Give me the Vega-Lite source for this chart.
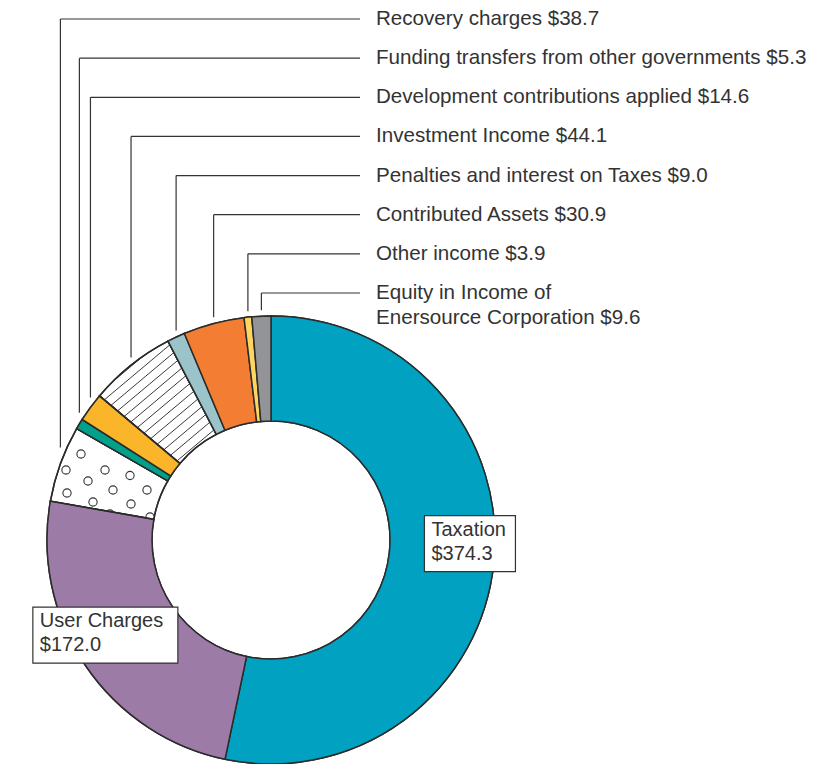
{
  "$schema": "https://vega.github.io/schema/vega-lite/v6.json",
  "width": 542,
  "height": 448,
  "autosize": {"type": "none"},
  "padding": {"left": 0, "top": 316, "right": 282, "bottom": 0},
  "background": "white",
  "config": {"view": {"stroke": null}},
  "datasets": {
    "income": [
      {"item": "Taxation", "value": 374.3, "order": 1, "lines": ["Taxation", "$374.3"]},
      {"item": "User Charges", "value": 172.0, "order": 2, "lines": ["User Charges", "$172.0"]},
      {"item": "Recovery charges", "value": 38.7, "order": 3, "lines": ["Recovery charges $38.7"]},
      {"item": "Funding transfers from other governments", "value": 5.3, "order": 4, "lines": ["Funding transfers from other governments $5.3"]},
      {"item": "Development contributions applied", "value": 14.6, "order": 5, "lines": ["Development contributions applied $14.6"]},
      {"item": "Investment Income", "value": 44.1, "order": 6, "lines": ["Investment Income $44.1"]},
      {"item": "Penalties and interest on Taxes", "value": 9.0, "order": 7, "lines": ["Penalties and interest on Taxes $9.0"]},
      {"item": "Contributed Assets", "value": 30.9, "order": 8, "lines": ["Contributed Assets $30.9"]},
      {"item": "Other income", "value": 3.9, "order": 9, "lines": ["Other income $3.9"]},
      {"item": "Equity in Income of Enersource Corporation", "value": 9.6, "order": 10, "lines": ["Equity in Income of", "Enersource Corporation $9.6"]}
    ],
    "hatch": [
      {"s": -121}, {"s": -129.5}, {"s": -138}, {"s": -146.5}, {"s": -155}, {"s": -163.5}, {"s": -172},
      {"s": -180.5}, {"s": -189}, {"s": -197.5}, {"s": -206}, {"s": -214.5}, {"s": -223}
    ],
    "dots": [
      {"px": 81, "py": 454}, {"px": 66, "py": 470}, {"px": 105, "py": 470}, {"px": 88, "py": 481},
      {"px": 130, "py": 475.5}, {"px": 67, "py": 493}, {"px": 113, "py": 490}, {"px": 147, "py": 490},
      {"px": 93, "py": 502}, {"px": 131, "py": 504}, {"px": 110, "py": 514}, {"px": 150, "py": 517}
    ]
  },
  "layer": [
    {
      "data": {"name": "hatch"},
      "transform": [
        {"calculate": "sqrt(224*224 - datum.s*datum.s)", "as": "h"},
        {"calculate": "271 + datum.s*0.643 - datum.h*0.766", "as": "x1"},
        {"calculate": "540 + datum.s*0.766 + datum.h*0.643", "as": "y1"},
        {"calculate": "271 + datum.s*0.643 + datum.h*0.766", "as": "x2"},
        {"calculate": "540 + datum.s*0.766 - datum.h*0.643", "as": "y2"}
      ],
      "mark": {"type": "rule", "stroke": "#3a3a3a", "strokeWidth": 1},
      "encoding": {
        "x": {"field": "x1", "type": "quantitative", "scale": {"domain": [0, 542], "nice": false, "zero": false}, "axis": null},
        "y": {"field": "y1", "type": "quantitative", "scale": {"domain": [316, 764], "reverse": true, "nice": false, "zero": false}, "axis": null},
        "x2": {"field": "x2"},
        "y2": {"field": "y2"}
      }
    },
    {
      "data": {"name": "income"},
      "mark": {"type": "arc", "radius": 224, "radius2": 119, "stroke": "#2b2b2b", "strokeWidth": 1.5},
      "encoding": {
        "theta": {"field": "value", "type": "quantitative", "stack": true},
        "order": {"field": "order", "type": "quantitative"},
        "color": {
          "field": "item", "type": "nominal", "legend": null,
          "scale": {
            "domain": ["Taxation", "User Charges", "Recovery charges", "Funding transfers from other governments", "Development contributions applied", "Investment Income", "Penalties and interest on Taxes", "Contributed Assets", "Other income", "Equity in Income of Enersource Corporation"],
            "range": ["#00a1c1", "#9d7ba7", "#ffffff", "#00a08b", "#fbb52a", "transparent", "#9ac3ca", "#f37e33", "#fed55f", "#929497"]
          }
        }
      }
    },
    {
      "data": {"name": "dots"},
      "mark": {"type": "point", "shape": "circle", "filled": false, "fill": "white", "stroke": "#333333", "strokeWidth": 1.1, "size": 68, "opacity": 1},
      "encoding": {
        "x": {"field": "px", "type": "quantitative", "scale": {"domain": [0, 542], "nice": false, "zero": false}, "axis": null},
        "y": {"field": "py", "type": "quantitative", "scale": {"domain": [316, 764], "reverse": true, "nice": false, "zero": false}, "axis": null}
      }
    },
    {
      "data": {"name": "income"},
      "mark": {"type": "arc", "radius": 224, "radius2": 119, "stroke": "#2b2b2b", "strokeWidth": 1.5},
      "encoding": {
        "theta": {"field": "value", "type": "quantitative", "stack": true},
        "order": {"field": "order", "type": "quantitative"},
        "color": {"field": "item", "type": "nominal", "legend": null},
        "fillOpacity": {"condition": {"test": "datum.item === 'Recovery charges'", "value": 0}, "value": 1}
      }
    },
    {
      "data": {"name": "income"},
      "transform": [
        {"joinaggregate": [{"op": "sum", "field": "value", "as": "total"}]},
        {"window": [{"op": "sum", "field": "value", "as": "cum"}], "sort": [{"field": "order", "order": "ascending"}], "frame": [null, 0]},
        {"calculate": "(datum.cum - datum.value/2)/datum.total*2*PI", "as": "mid"},
        {"filter": "datum.order >= 3"},
        {"calculate": "271 + 224*sin(datum.mid)", "as": "lx"},
        {"calculate": "540 - sqrt(230*230 - pow(datum.lx - 271, 2))", "as": "lyEnd"},
        {"calculate": "19 + 39.14*(datum.order - 3)", "as": "ly"},
        {"calculate": "360", "as": "lxEnd"},
        {"calculate": "376", "as": "tx"},
        {"calculate": "datum.ly - 10", "as": "ty"}
      ],
      "layer": [
        {
          "mark": {"type": "rule", "stroke": "#333333", "strokeWidth": 1.2},
          "encoding": {
            "x": {"field": "lx", "type": "quantitative", "scale": {"domain": [0, 542], "nice": false, "zero": false}, "axis": null},
            "x2": {"field": "lxEnd"},
            "y": {"field": "ly", "type": "quantitative", "scale": {"domain": [316, 764], "reverse": true, "nice": false, "zero": false}, "axis": null}
          }
        },
        {
          "mark": {"type": "rule", "stroke": "#333333", "strokeWidth": 1.2},
          "encoding": {
            "x": {"field": "lx", "type": "quantitative", "scale": {"domain": [0, 542], "nice": false, "zero": false}, "axis": null},
            "y": {"field": "ly", "type": "quantitative", "scale": {"domain": [316, 764], "reverse": true, "nice": false, "zero": false}, "axis": null},
            "y2": {"field": "lyEnd"}
          }
        },
        {
          "mark": {"type": "text", "align": "left", "baseline": "top", "font": "Liberation Sans", "fontSize": 20.6, "lineHeight": 25, "color": "#333333"},
          "encoding": {
            "x": {"field": "tx", "type": "quantitative", "scale": {"domain": [0, 542], "nice": false, "zero": false}, "axis": null},
            "y": {"field": "ty", "type": "quantitative", "scale": {"domain": [316, 764], "reverse": true, "nice": false, "zero": false}, "axis": null},
            "text": {"field": "lines"}
          }
        }
      ]
    },
    {
      "data": {"name": "income"},
      "transform": [
        {"joinaggregate": [{"op": "sum", "field": "value", "as": "total"}]},
        {"window": [{"op": "sum", "field": "value", "as": "cum"}], "sort": [{"field": "order", "order": "ascending"}], "frame": [null, 0]},
        {"calculate": "(datum.cum - datum.value/2)/datum.total*2*PI", "as": "mid"},
        {"filter": "datum.order <= 2"},
        {"calculate": "13.5*length(datum.lines[0]) - 17", "as": "bw"},
        {"calculate": "271 + 200*sin(datum.mid) - datum.bw/2", "as": "bx1"},
        {"calculate": "datum.bx1 + datum.bw", "as": "bx2"},
        {"calculate": "540 - 200*cos(datum.mid) - 17 - 28", "as": "by1"},
        {"calculate": "datum.by1 + 56", "as": "by2"},
        {"calculate": "datum.bx1 + 7", "as": "tx"},
        {"calculate": "datum.by1 + 4", "as": "ty"}
      ],
      "layer": [
        {
          "mark": {"type": "rect", "fill": "white", "stroke": "#333333", "strokeWidth": 1.2},
          "encoding": {
            "x": {"field": "bx1", "type": "quantitative", "scale": {"domain": [0, 542], "nice": false, "zero": false}, "axis": null},
            "x2": {"field": "bx2"},
            "y": {"field": "by1", "type": "quantitative", "scale": {"domain": [316, 764], "reverse": true, "nice": false, "zero": false}, "axis": null},
            "y2": {"field": "by2"}
          }
        },
        {
          "mark": {"type": "text", "align": "left", "baseline": "top", "font": "Liberation Sans", "fontSize": 20, "lineHeight": 24, "color": "#333333"},
          "encoding": {
            "x": {"field": "tx", "type": "quantitative", "scale": {"domain": [0, 542], "nice": false, "zero": false}, "axis": null},
            "y": {"field": "ty", "type": "quantitative", "scale": {"domain": [316, 764], "reverse": true, "nice": false, "zero": false}, "axis": null},
            "text": {"field": "lines"}
          }
        }
      ]
    }
  ]
}
